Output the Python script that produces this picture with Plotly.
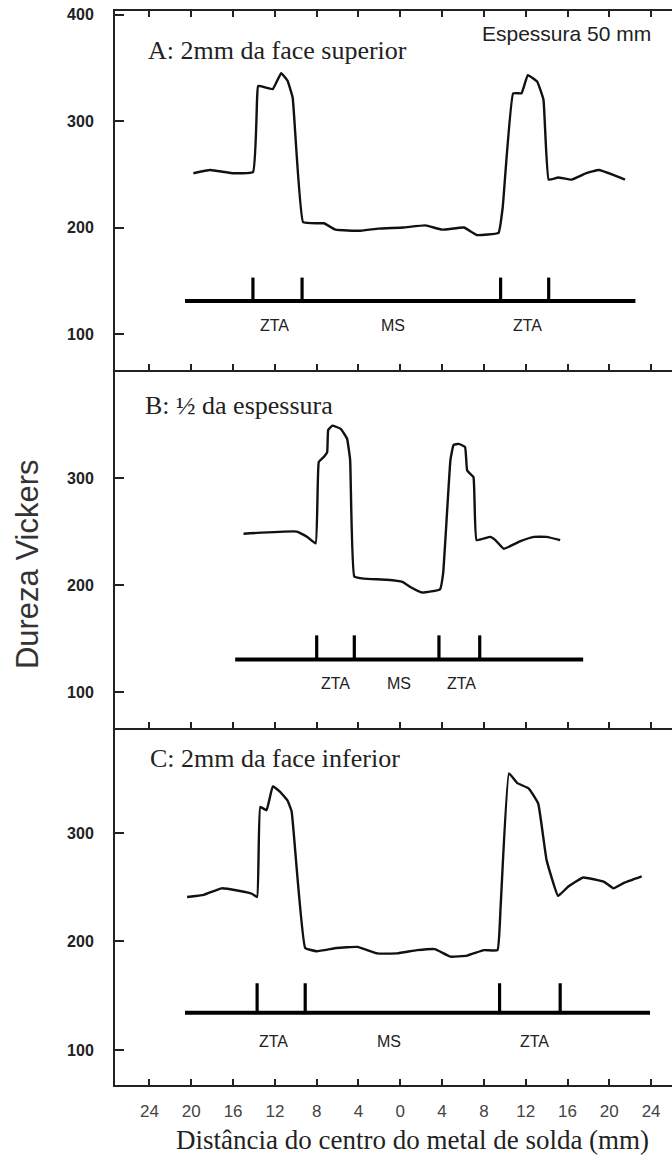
import plotly.graph_objects as go

# ---------------- data ----------------
x_tickvals = [-24, -20, -16, -12, -8, -4, 0, 4, 8, 12, 16, 20, 24]
x_ticktext = ["24", "20", "16", "12", "8", "4", "0", "4", "8", "12", "16", "20", "24"]
yA_tickvals = [100, 200, 300, 400]
yBC_tickvals = [100, 200, 300]

# Panel A: 2 mm from top face
A_mm = [-19.8, -18.2, -16.1, -14.1, -13.7, -13.6, -12.2, -11.4, -10.8, -10.3, -9.3, -7.9, -7.3, -6.2,
        -3.8, -2.1, 0.3, 2.4, 4.0, 6.1, 7.3, 9.4, 9.8, 10.8, 11.6, 12.2, 13.1, 13.7, 14.2, 15.1,
        16.4, 17.8, 19.0, 20.5, 21.5]
A_hv = [251, 254, 251, 252, 322, 333, 330, 345, 338, 322, 205, 204, 204, 198, 197, 199, 200, 202,
        198, 200, 193, 195, 219, 326, 326, 343, 337, 320, 245, 247, 245, 251, 254, 249, 245]

# Panel B: half thickness
B_mm = [-15.0, -9.9, -8.9, -8.1, -7.8, -7.3, -7.0, -6.9, -6.5, -5.7, -5.1, -4.8, -4.4, -3.5, -1.3,
        0.2, 1.0, 2.1, 3.8, 4.1, 4.8, 5.1, 5.6, 6.2, 6.4, 7.0, 7.3, 8.6, 9.1, 9.9, 11.5, 12.8, 14.0, 15.3]
B_hv = [248, 250, 245, 239, 315, 320, 324, 345, 349, 346, 337, 317, 208, 206, 205, 203, 198, 193,
        196, 211, 317, 331, 332, 329, 307, 301, 242, 245, 242, 234, 241, 245, 245, 242]

# Panel C: 2 mm from bottom face
C_mm = [-20.4, -18.8, -17.1, -15.6, -14.2, -13.7, -13.4, -12.8, -12.2, -11.5, -10.8, -10.4, -9.1,
        -8.0, -6.1, -4.1, -2.2, -0.3, 1.6, 3.3, 4.8, 6.4, 8.0, 9.3, 9.6, 10.4, 11.2, 12.3, 13.2,
        14.0, 15.1, 16.0, 17.5, 19.5, 20.4, 21.4, 23.1]
C_hv = [241, 243, 249, 247, 244, 241, 324, 321, 343, 338, 330, 320, 194, 191, 194, 195, 189, 189,
        192, 193, 186, 187, 192, 192, 232, 355, 346, 341, 327, 275, 242, 250, 259, 255, 249, 254, 260]

# Zone bars (ZTA / MS) per panel
A_bar_span = [-20.6, 22.5]
A_bar_level = 131
A_zta_bounds = [-14.1, -9.4, 9.6, 14.2]
A_tick_top = 153
A_zone_x = [-12.0, -0.7, 12.2]

B_bar_span = [-15.8, 17.5]
B_bar_level = 130.5
B_zta_bounds = [-8.0, -4.4, 3.7, 7.6]
B_tick_top = 153
B_zone_x = [-6.2, -0.1, 5.9]

C_bar_span = [-20.6, 23.9]
C_bar_level = 134.4
C_zta_bounds = [-13.7, -9.1, 9.5, 15.3]
C_tick_top = 161.5
C_zone_x = [-12.1, -1.1, 12.8]

zone_names = ["ZTA", "MS", "ZTA"]
zone_label_hv = 108

panel_titles = ["A: 2mm da face superior", "B: \u00bd da espessura", "C: 2mm da face inferior"]

# ---------------- figure ----------------
fig = go.Figure()

panels = [
    ("x3", "y3", A_mm, A_hv, A_bar_span, A_bar_level, A_zta_bounds, A_tick_top, A_zone_x),
    ("x2", "y2", B_mm, B_hv, B_bar_span, B_bar_level, B_zta_bounds, B_tick_top, B_zone_x),
    ("x", "y", C_mm, C_hv, C_bar_span, C_bar_level, C_zta_bounds, C_tick_top, C_zone_x),
]

ann = []
for xa, ya, mm, hv, span, lvl, bounds, top, zx in panels:
    fig.add_trace(go.Scatter(x=mm, y=hv, mode="lines", xaxis=xa, yaxis=ya,
                             line=dict(color="#111", width=2.4, shape="spline", smoothing=0.3),
                             showlegend=False, hoverinfo="skip"))
    fig.add_trace(go.Scatter(x=span, y=[lvl, lvl], mode="lines", xaxis=xa, yaxis=ya,
                             line=dict(color="#000", width=4), showlegend=False, hoverinfo="skip"))
    tx, ty = [], []
    for b in bounds:
        tx += [b, b, None]
        ty += [lvl, top, None]
    fig.add_trace(go.Scatter(x=tx, y=ty, mode="lines", xaxis=xa, yaxis=ya,
                             line=dict(color="#000", width=3.2), showlegend=False, hoverinfo="skip"))
    for zxv, name in zip(zx, zone_names):
        ann.append(dict(x=zxv, y=zone_label_hv, xref=xa, yref=ya, text=name, showarrow=False,
                        font=dict(family="Liberation Sans, Arial", size=16, color="#222")))

# panel titles
title_pos = [("x3", "y3", -24.3, 366), ("x2", "y2", -24.6, 368), ("x", "y", -24.1, 369)]
for (xa, ya, xx, yy), t in zip(title_pos, panel_titles):
    ann.append(dict(x=xx, y=yy, xref=xa, yref=ya, text=t, showarrow=False, xanchor="left",
                    yanchor="middle", font=dict(family="Liberation Serif, Times New Roman", size=26,
                                                color="#222")))
ann.append(dict(x=7.6, y=382.5, xref="x3", yref="y3", text="Espessura 50 mm", showarrow=False,
                xanchor="left", yanchor="middle",
                font=dict(family="Liberation Sans, Arial", size=21, color="#222")))
ann.append(dict(x=-0.158, y=0.485, xref="paper", yref="paper", text="Dureza Vickers", showarrow=False,
                textangle=-90, xanchor="center", yanchor="middle",
                font=dict(family="Liberation Sans, Arial", size=31, color="#333")))
ann.append(dict(x=0.535, y=-0.051, xref="paper", yref="paper",
                text="Dist\u00e2ncia do centro do metal de solda (mm)", showarrow=False,
                xanchor="center", yanchor="middle",
                font=dict(family="Liberation Serif, Times New Roman", size=27, color="#222")))

xcommon = dict(range=[-27.3, 26.0], tickvals=x_tickvals, ticktext=x_ticktext, ticks="inside",
               ticklen=6, tickwidth=1.5, tickcolor="#222", showline=True, linecolor="#222",
               linewidth=2, showgrid=False, zeroline=False, ticklabelstandoff=10,
               tickfont=dict(family="Liberation Sans, Arial", size=17, color="#444"))
ycommon = dict(ticks="inside", ticklen=9, tickwidth=2, tickcolor="#222",
               showline=True, linecolor="#222", linewidth=2, showgrid=False, zeroline=False,
               ticklabelstandoff=16,
               tickfont=dict(family="Liberation Sans, Arial", size=16, color="#222", weight="bold"))

fig.update_layout(
    width=672, height=1157,
    margin=dict(l=115, r=0, t=11, b=72),
    paper_bgcolor="white", plot_bgcolor="white",
    annotations=ann,
    xaxis=dict(xcommon, anchor="y", showticklabels=True, mirror=False),
    xaxis2=dict(xcommon, anchor="y2", showticklabels=False, mirror=False, matches="x"),
    xaxis3=dict(xcommon, anchor="y3", showticklabels=False, mirror="ticks", matches="x"),
    yaxis=dict(ycommon, tickvals=yBC_tickvals, domain=[0.0, 0.3324], range=[67.7, 396.8], anchor="x"),
    yaxis2=dict(ycommon, tickvals=yBC_tickvals, domain=[0.3324, 0.6657], range=[66.4, 401.0], anchor="x2"),
    yaxis3=dict(ycommon, tickvals=yA_tickvals, domain=[0.6657, 1.0], range=[66.2, 403.3], anchor="x3"),
)

fig.write_html("out.html")
